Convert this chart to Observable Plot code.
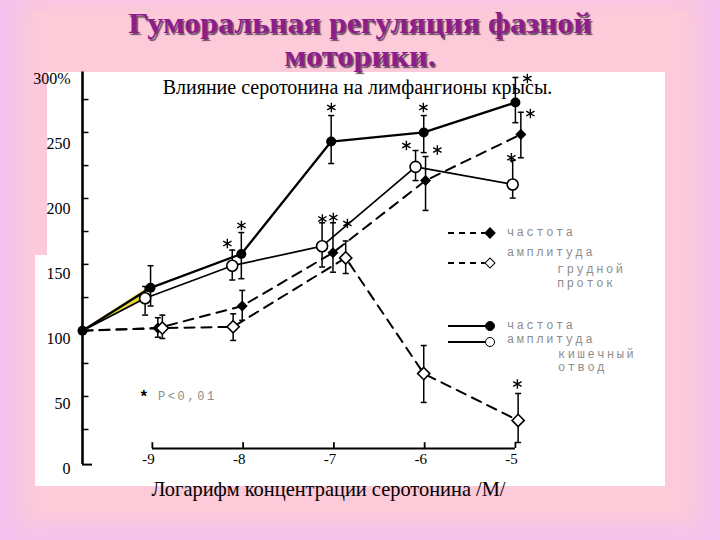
<!DOCTYPE html>
<html><head><meta charset="utf-8">
<script src="https://cdn.jsdelivr.net/npm/d3@7"></script>
<script src="https://cdn.jsdelivr.net/npm/@observablehq/plot@0.6"></script>
<style>
html,body{margin:0;padding:0;}
body{width:720px;height:540px;overflow:hidden;background:#f4c2ee;}
#slide{position:relative;width:720px;height:540px;overflow:hidden;background:#f4c2ee;}
#glow{position:absolute;left:34px;top:12px;width:652px;height:500px;background:#fccad8;box-shadow:0 0 22px 14px #fccad8;}
#panel{position:absolute;left:35px;top:72px;width:630px;height:414px;background:#fff;}
#strip{position:absolute;left:35px;top:72px;width:12px;height:183px;background:#fbc9dc;}
.title{position:absolute;left:0;width:720px;text-align:center;font-family:"Liberation Serif",serif;font-weight:bold;color:#8e1d8c;text-shadow:1.5px 1.5px 1px #6a4d66;white-space:nowrap;}
#title1{top:6px;font-size:30px;line-height:34px;transform:scaleX(1.066);}
#title2{top:39.5px;font-size:29px;line-height:33px;transform:scaleX(1.12);}
#subtitle{position:absolute;left:0;width:715px;top:76px;text-align:center;font-family:"Liberation Serif",serif;font-size:20px;color:#000;}
#xlabel{position:absolute;left:0;width:657px;top:478px;text-align:center;font-family:"Liberation Serif",serif;font-size:20.4px;color:#000;}
#chart{position:absolute;left:0;top:66px;}
.lg{position:absolute;font-family:"Liberation Mono",monospace;font-size:12px;letter-spacing:2.6px;color:#8c8c8c;line-height:12px;white-space:nowrap;}
.ln{position:absolute;height:0;border-top:2px solid #000;}
.ln.d{border-top:2px dashed #000;}
.mk{position:absolute;box-sizing:border-box;}
</style>
</head><body>
<div id="slide">
  <div id="glow"></div>
  <div id="panel"></div>
  <div id="strip"></div>
  <div class="title" id="title1">Гуморальная регуляция фазной</div>
  <div class="title" id="title2">моторики.</div>
  <div id="chart"></div>
  <div id="subtitle">Влияние серотонина на лимфангионы крысы.</div>
  <div id="xlabel">Логарифм концентрации серотонина /М/</div>
  <div id="legend"></div>
</div>
<script>
// ---- data (log molar concentration; first point = control, drawn on the y axis) ----
const controlX = -9.77;
const xTicks = [-9, -8, -7, -6, -5];
const yTicks = [0, 50, 100, 150, 200, 250, 300];
const yMinorTicks = [30, 55.4, 80.8, 106, 131.5, 157, 182.3, 207.7, 233, 258.5, 283.8];
const xAxisLevel = 15.4;

// частота, кишечный отвод (solid, filled circle)
const freqLymphX  = [-9.77, -9.02, -8.02, -7.03, -6.01, -5.00];
const freqLymph   = [106, 139, 165, 251.5, 258.5, 281.5];
const freqLymphLo = [null, 125, 146, 234.6, 243, 266];
const freqLymphHi = [null, 156, 181.5, 271.5, 271.5, 300.8];
// амплитуда, кишечный отвод (solid, open circle)
const amplLymphX  = [-9.77, -9.08, -8.12, -7.13, -6.10, -5.03];
const amplLymph   = [106, 131, 156, 171, 232, 218.5];
const amplLymphLo = [null, 118, 145, 155, 221.5, 208];
const amplLymphHi = [null, 140, 168, 189, 244.6, 237];
// частота, грудной проток (dashed, filled diamond)
const freqDuctX  = [-9.77, -8.94, -8.01, -7.01, -5.99, -4.94];
const freqDuct   = [106, 108, 125, 166, 221.5, 257];
const freqDuctLo = [null, 101, 114, 151, 198.5, 239];
const freqDuctHi = [null, 116, 137, 189, 240, 274];
// амплитуда, грудной проток (dashed, open diamond)
const amplDuctX  = [-9.77, -8.89, -8.11, -6.87, -6.01, -4.97];
const amplDuct   = [106, 108, 109, 162, 73, 37];
const amplDuctLo = [null, 100, 98.5, 150, 50.8, 20];
const amplDuctHi = [null, 118, 119, 175, 94.6, 57.7];
// significance asterisks (P<0,01)
const starX = [-8.174, -8.019, -7.127, -7.006, -6.851, -7.028, -6.201, -6.014, -5.860, -5.044, -4.868, -4.835, -4.978];
const starY = [173, 187, 192, 193, 188.5, 277.7, 248.5, 277.7, 245, 239, 300, 273, 65];

// ---- build tables ----
function rows(xs, ys, lo, hi) { return xs.map((x, i) => ({x, y: ys[i], lo: lo[i], hi: hi[i], i})); }
const S1 = rows(freqLymphX, freqLymph, freqLymphLo, freqLymphHi);
const S2 = rows(amplLymphX, amplLymph, amplLymphLo, amplLymphHi);
const S3 = rows(freqDuctX, freqDuct, freqDuctLo, freqDuctHi);
const S4 = rows(amplDuctX, amplDuct, amplDuctLo, amplDuctHi);
const all = [...S1, ...S2, ...S3, ...S4].filter(d => d.lo != null);
const caps = all.flatMap(d => [{x: d.x, y: d.lo}, {x: d.x, y: d.hi}]);
const stars = starX.map((x, i) => ({x, y: starY[i]}));
const wedge = [0, 1].map(i => ({x: (freqLymphX[i] + amplLymphX[i]) / 2, y1: amplLymph[i], y2: freqLymph[i]}));
const notControl = d => d.i > 0;

const hbar = {draw(ctx, size) { const r = Math.sqrt(size / Math.PI); ctx.moveTo(-r, 0); ctx.lineTo(r, 0); }};
const serif = "Liberation Serif";

const chart = Plot.plot({
  width: 720, height: 474,
  marginLeft: 82, marginRight: 168.8, marginTop: 12, marginBottom: 92,
  x: {domain: [controlX, -4.6]},
  y: {domain: [0, 300], range: [402, 12]},
  style: {background: "transparent", fontFamily: serif, color: "black", overflow: "visible"},
  marks: [
    Plot.areaY(wedge, {x: "x", y1: "y1", y2: "y2", fill: "#e8d435", fillOpacity: 0.95}),
    Plot.line(S1, {x: "x", y: "y", stroke: "black", strokeWidth: 2.3}),
    Plot.line(S2, {x: "x", y: "y", stroke: "black", strokeWidth: 1.7}),
    Plot.line(S3, {x: "x", y: "y", stroke: "black", strokeWidth: 2, strokeDasharray: "10,7"}),
    Plot.line(S4, {x: "x", y: "y", stroke: "black", strokeWidth: 2, strokeDasharray: "10,7"}),
    Plot.ruleX(all, {x: "x", y1: "lo", y2: "hi", stroke: "black", strokeWidth: 1.5}),
    Plot.dot(caps, {x: "x", y: "y", symbol: hbar, r: 3, stroke: "black", strokeWidth: 1.5}),
    Plot.dot(S2, {x: "x", y: "y", r: 5.5, fill: "white", stroke: "black", strokeWidth: 1.6, filter: notControl}),
    Plot.dot(S3, {x: "x", y: "y", symbol: "diamond2", r: 5, fill: "black", filter: notControl}),
    Plot.dot(S4, {x: "x", y: "y", symbol: "diamond2", r: 5.5, fill: "white", stroke: "black", strokeWidth: 1.6, filter: notControl}),
    Plot.dot(S1, {x: "x", y: "y", r: 5, fill: "black"}),
    Plot.dot(stars, {x: "x", y: "y", symbol: "asterisk", r: 4.5, stroke: "black", strokeWidth: 1.4}),
    // y axis
    Plot.ruleX([controlX], {y1: 3, y2: 305, stroke: "black", strokeWidth: 2.6}),
    Plot.ruleY([3], {x1: controlX, x2: controlX + 0.11, stroke: "black", strokeWidth: 2}),
    Plot.dot(yMinorTicks, {x: () => controlX, y: d => d, symbol: hbar, r: 3, dx: 3, stroke: "black", strokeWidth: 1.5}),
    Plot.axisY(yTicks, {anchor: "left", tickSize: 0, tickPadding: 12, fontSize: 16, label: null,
      tickFormat: d => d === 300 ? "300%" : String(d)}),
    // x axis
    Plot.ruleY([xAxisLevel], {x1: xTicks[0], x2: xTicks[xTicks.length - 1], stroke: "black", strokeWidth: 1.8}),
    Plot.ruleX(xTicks, {x: d => d, y1: xAxisLevel, y2: xAxisLevel + 4.5, stroke: "black", strokeWidth: 1.8}),
    Plot.axisX(xTicks, {anchor: "bottom", tickSize: 0, tickPadding: 5, fontSize: 15, dx: -4, label: null,
      tickFormat: d => String(d)})
  ]
});
document.getElementById("chart").appendChild(chart);

// ---- legend ----
const legendItems = [
  {top: 233, line: "d", mark: "fd"}, {top: 263, line: "d", mark: "od"},
  {top: 326, line: "s", mark: "fc"}, {top: 342, line: "s", mark: "oc"}
];
const legendTexts = [
  {t: "частота", l: 507, c: 233}, {t: "амплитуда", l: 507, c: 253},
  {t: "грудной", l: 557, c: 270}, {t: "проток", l: 557, c: 284},
  {t: "частота", l: 507, c: 326}, {t: "амплитуда", l: 507, c: 340},
  {t: "кишечный", l: 558, c: 355}, {t: "отвод", l: 558, c: 368},
  {t: "P<0,01", l: 158, c: 397}
];
const lg = document.getElementById("legend");
for (const it of legendItems) {
  const ln = document.createElement("div");
  ln.className = "ln" + (it.line === "d" ? " d" : "");
  Object.assign(ln.style, {left: "448px", top: (it.top - 1) + "px", width: "39px"});
  lg.appendChild(ln);
  const mk = document.createElement("div");
  mk.className = "mk";
  const s = it.mark[1] === "d" ? 8 : 10;
  Object.assign(mk.style, {left: (490 - s / 2) + "px", top: (it.top - s / 2) + "px", width: s + "px", height: s + "px",
    background: it.mark[0] === "f" ? "#000" : "#fff", border: "1.6px solid #000",
    borderRadius: it.mark[1] === "c" ? "50%" : "0", transform: it.mark[1] === "d" ? "rotate(45deg)" : "none"});
  lg.appendChild(mk);
}
for (const tx of legendTexts) {
  const d = document.createElement("div");
  d.className = "lg";
  d.textContent = tx.t;
  Object.assign(d.style, {left: tx.l + "px", top: (tx.c - 6) + "px"});
  lg.appendChild(d);
}
const st = document.createElement("div");
st.className = "lg";
st.textContent = "*";
Object.assign(st.style, {left: "139px", top: "390px", color: "#000", fontSize: "16px", fontWeight: "bold", lineHeight: "16px"});
lg.appendChild(st);
</script>
</body></html>
